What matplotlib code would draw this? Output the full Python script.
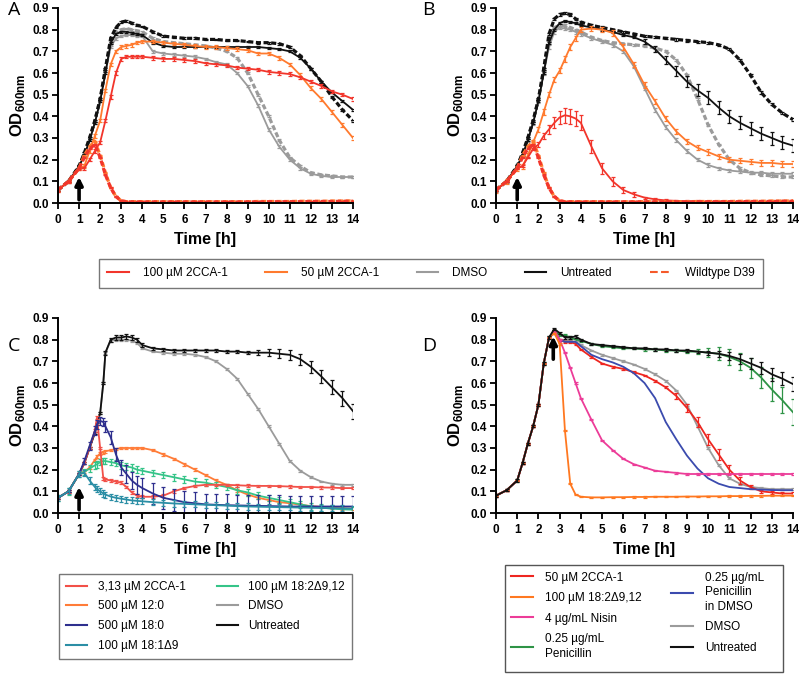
## Growth curves (OD600) of pneumococcal cultures, four panels A-D

import numpy as np
import matplotlib.pyplot as plt
from matplotlib.lines import Line2D
from matplotlib.patches import Rectangle

plt.rcParams['font.family'] = ['Liberation Sans', 'DejaVu Sans']
plt.rcParams['mathtext.fontset'] = 'custom'
plt.rcParams['mathtext.rm'] = 'Liberation Sans'
plt.rcParams['mathtext.bf'] = 'Liberation Sans:bold'

## Time points [h]

T_AB = [0, 0.5, 1, 1.25, 1.5, 1.75, 2, 2.25, 2.5, 2.75, 3, 3.25, 3.5, 3.75, 4,
        4.5, 5, 5.5, 6, 6.5, 7, 7.5, 8, 8.5, 9, 9.5, 10, 10.5, 11, 11.5, 12,
        12.5, 13, 13.5, 14]
T_C = [0, 0.5, 1, 1.25, 1.5, 1.75, 1.85, 2, 2.15, 2.25, 2.5, 2.75, 3, 3.25,
       3.5, 3.75, 4, 4.5, 5, 5.5, 6, 6.5, 7, 7.5, 8, 8.5, 9, 9.5, 10, 10.5,
       11, 11.5, 12, 12.5, 13, 13.5, 14]
T_D = T_AB

## Panel A (solid = mutant, dashed = wildtype D39)

A_untreated_wt = [0.06, 0.10, 0.17, 0.23, 0.30, 0.38, 0.48, 0.62, 0.76, 0.81,
                  0.835, 0.84, 0.83, 0.82, 0.815, 0.79, 0.77, 0.765, 0.76, 0.76,
                  0.755, 0.755, 0.75, 0.75, 0.745, 0.74, 0.74, 0.735, 0.72, 0.68,
                  0.62, 0.56, 0.49, 0.43, 0.38]
A_untreated = [0.06, 0.10, 0.17, 0.22, 0.29, 0.37, 0.47, 0.60, 0.74, 0.78,
               0.79, 0.79, 0.785, 0.78, 0.775, 0.74, 0.725, 0.72, 0.72, 0.72,
               0.72, 0.72, 0.72, 0.72, 0.72, 0.72, 0.715, 0.71, 0.70, 0.67,
               0.62, 0.56, 0.51, 0.47, 0.43]
A_dmso_wt = [0.06, 0.10, 0.17, 0.23, 0.30, 0.38, 0.48, 0.62, 0.74, 0.79,
             0.80, 0.805, 0.80, 0.795, 0.79, 0.76, 0.745, 0.74, 0.735, 0.73,
             0.725, 0.715, 0.70, 0.67, 0.60, 0.50, 0.40, 0.29, 0.21, 0.17,
             0.14, 0.13, 0.125, 0.12, 0.12]
A_dmso = [0.06, 0.10, 0.17, 0.22, 0.29, 0.37, 0.47, 0.60, 0.72, 0.76,
          0.77, 0.775, 0.775, 0.77, 0.77, 0.70, 0.69, 0.685, 0.68, 0.675,
          0.665, 0.65, 0.64, 0.60, 0.54, 0.45, 0.34, 0.26, 0.20, 0.16,
          0.135, 0.125, 0.12, 0.12, 0.12]
A_50 = [0.06, 0.10, 0.16, 0.17, 0.24, 0.31, 0.38, 0.52, 0.64, 0.70,
        0.72, 0.725, 0.73, 0.74, 0.745, 0.745, 0.74, 0.735, 0.73, 0.725,
        0.72, 0.72, 0.715, 0.71, 0.705, 0.69, 0.69, 0.67, 0.64, 0.59,
        0.53, 0.48, 0.42, 0.36, 0.30]
A_100 = [0.06, 0.10, 0.16, 0.16, 0.20, 0.24, 0.28, 0.38, 0.49, 0.60,
         0.665, 0.675, 0.675, 0.675, 0.675, 0.67, 0.665, 0.665, 0.66, 0.655,
         0.645, 0.64, 0.635, 0.625, 0.62, 0.615, 0.605, 0.60, 0.595, 0.58,
         0.56, 0.54, 0.515, 0.50, 0.48]

## Wildtype D39 with 2CCA-1 (same in A and B)
WT_100 = [0.06, 0.10, 0.16, 0.21, 0.25, 0.27, 0.21, 0.13, 0.07, 0.03,
          0.01, 0.006, 0.005, 0.005, 0.005, 0.005, 0.005, 0.005, 0.005, 0.005,
          0.005, 0.005, 0.005, 0.005, 0.005, 0.005, 0.006, 0.006, 0.006, 0.006,
          0.007, 0.007, 0.007, 0.008, 0.008]
WT_50 = [0.06, 0.10, 0.16, 0.22, 0.26, 0.285, 0.22, 0.14, 0.07, 0.03,
         0.01, 0.006, 0.006, 0.006, 0.006, 0.006, 0.006, 0.006, 0.006, 0.006,
         0.006, 0.006, 0.006, 0.006, 0.006, 0.007, 0.007, 0.007, 0.007, 0.008,
         0.008, 0.008, 0.009, 0.009, 0.01]

## Panel B

B_untreated_wt = [0.06, 0.10, 0.17, 0.23, 0.30, 0.38, 0.48, 0.62, 0.78, 0.85,
                  0.87, 0.875, 0.87, 0.85, 0.835, 0.82, 0.81, 0.80, 0.79, 0.78,
                  0.77, 0.765, 0.76, 0.755, 0.75, 0.745, 0.74, 0.73, 0.71, 0.66,
                  0.59, 0.51, 0.455, 0.415, 0.385]
B_untreated = [0.06, 0.10, 0.17, 0.22, 0.29, 0.37, 0.47, 0.60, 0.74, 0.80,
               0.83, 0.84, 0.835, 0.83, 0.82, 0.81, 0.80, 0.79, 0.775, 0.765,
               0.745, 0.71, 0.66, 0.61, 0.56, 0.52, 0.485, 0.44, 0.40, 0.37,
               0.345, 0.32, 0.30, 0.28, 0.265]
B_dmso_wt = [0.06, 0.10, 0.17, 0.23, 0.30, 0.38, 0.48, 0.62, 0.76, 0.81,
             0.82, 0.82, 0.81, 0.80, 0.79, 0.765, 0.75, 0.74, 0.735, 0.73,
             0.725, 0.715, 0.70, 0.66, 0.59, 0.48, 0.36, 0.27, 0.20, 0.16,
             0.14, 0.13, 0.125, 0.12, 0.12]
B_dmso = [0.06, 0.10, 0.17, 0.22, 0.29, 0.37, 0.47, 0.60, 0.72, 0.79,
          0.81, 0.805, 0.80, 0.79, 0.78, 0.76, 0.745, 0.73, 0.70, 0.63,
          0.53, 0.43, 0.35, 0.29, 0.24, 0.20, 0.175, 0.16, 0.15, 0.145,
          0.14, 0.14, 0.135, 0.135, 0.135]
B_50 = [0.06, 0.10, 0.16, 0.17, 0.22, 0.28, 0.34, 0.42, 0.50, 0.57,
        0.61, 0.665, 0.72, 0.76, 0.80, 0.805, 0.80, 0.785, 0.72, 0.64,
        0.545, 0.47, 0.39, 0.33, 0.285, 0.255, 0.235, 0.215, 0.20, 0.195,
        0.19, 0.185, 0.185, 0.18, 0.18]
B_100 = [0.06, 0.10, 0.16, 0.17, 0.21, 0.25, 0.27, 0.31, 0.34, 0.37,
         0.395, 0.405, 0.40, 0.39, 0.37, 0.26, 0.16, 0.10, 0.06, 0.04,
         0.025, 0.017, 0.012, 0.01, 0.008, 0.007, 0.006, 0.006, 0.006, 0.006,
         0.006, 0.006, 0.006, 0.007, 0.007]

## Panel C

C_untreated = [0.07, 0.10, 0.18, 0.23, 0.30, 0.37, 0.41, 0.46, 0.60, 0.74,
               0.80, 0.81, 0.81, 0.815, 0.81, 0.80, 0.775,
               0.76, 0.755, 0.75, 0.75, 0.75, 0.75, 0.75, 0.745, 0.745, 0.74,
               0.74, 0.74, 0.735, 0.73, 0.71, 0.675, 0.63, 0.58, 0.53, 0.47]
C_dmso = [0.07, 0.10, 0.18, 0.23, 0.30, 0.37, 0.41, 0.46, 0.60, 0.74,
          0.795, 0.80, 0.80, 0.80, 0.795, 0.785, 0.76,
          0.745, 0.74, 0.735, 0.735, 0.73, 0.72, 0.70, 0.665, 0.62, 0.55,
          0.48, 0.40, 0.32, 0.24, 0.195, 0.165, 0.145, 0.135, 0.13, 0.13]
C_2cca = [0.07, 0.10, 0.18, 0.23, 0.30, 0.38, 0.44, 0.30, 0.16, 0.155,
          0.15, 0.145, 0.14, 0.12, 0.095, 0.08, 0.075,
          0.075, 0.08, 0.10, 0.115, 0.125, 0.13, 0.13, 0.13, 0.128, 0.126,
          0.125, 0.125, 0.124, 0.122, 0.12, 0.12, 0.118, 0.117, 0.115, 0.115]
C_12_0 = [0.07, 0.10, 0.18, 0.19, 0.21, 0.245, 0.26, 0.275, 0.28, 0.285,
          0.29, 0.295, 0.30, 0.30, 0.30, 0.30, 0.30,
          0.29, 0.27, 0.25, 0.225, 0.20, 0.175, 0.15, 0.13, 0.105, 0.085,
          0.07, 0.06, 0.05, 0.045, 0.038, 0.032, 0.028, 0.025, 0.022, 0.02]
C_18_0 = [0.07, 0.10, 0.18, 0.24, 0.31, 0.38, 0.41, 0.425, 0.42, 0.40,
          0.35, 0.27, 0.21, 0.18, 0.15, 0.13, 0.115,
          0.09, 0.07, 0.06, 0.05, 0.045, 0.04, 0.038, 0.036, 0.035, 0.034,
          0.033, 0.032, 0.031, 0.03, 0.03, 0.03, 0.03, 0.03, 0.03, 0.03]
C_18_1 = [0.07, 0.10, 0.18, 0.185, 0.15, 0.12, 0.11, 0.10, 0.09, 0.085,
          0.076, 0.07, 0.066, 0.062, 0.058, 0.056, 0.054,
          0.05, 0.047, 0.044, 0.042, 0.04, 0.038, 0.036, 0.034, 0.032, 0.03,
          0.029, 0.028, 0.027, 0.026, 0.025, 0.024, 0.023, 0.022, 0.021, 0.02]
C_18_2 = [0.07, 0.10, 0.18, 0.19, 0.205, 0.22, 0.225, 0.235, 0.24, 0.24,
          0.235, 0.23, 0.22, 0.215, 0.21, 0.20, 0.195,
          0.185, 0.175, 0.165, 0.155, 0.145, 0.14, 0.13, 0.12, 0.105, 0.095,
          0.08, 0.07, 0.06, 0.05, 0.04, 0.03, 0.025, 0.02, 0.017, 0.015]

## Panel D (all cultures share the first 2.5 h)

D_rise = [0.08, 0.105, 0.15, 0.23, 0.32, 0.40, 0.50, 0.69, 0.81]
D_untreated = D_rise + [0.85, 0.83, 0.81, 0.81, 0.815, 0.80,
                        0.78, 0.775, 0.77, 0.765, 0.76, 0.76, 0.755, 0.755, 0.75, 0.75,
                        0.745, 0.74, 0.735, 0.725, 0.71, 0.69, 0.67, 0.64, 0.62, 0.595]
D_peni = D_rise + [0.84, 0.82, 0.82, 0.81, 0.80, 0.795,
                   0.78, 0.77, 0.765, 0.76, 0.76, 0.755, 0.755, 0.75, 0.75, 0.745,
                   0.745, 0.74, 0.735, 0.72, 0.70, 0.67, 0.625, 0.57, 0.52, 0.465]
D_dmso = D_rise + [0.84, 0.80, 0.795, 0.795, 0.79, 0.775,
                   0.75, 0.73, 0.715, 0.70, 0.685, 0.665, 0.64, 0.61, 0.565, 0.50,
                   0.40, 0.30, 0.22, 0.16, 0.135, 0.12, 0.115, 0.11, 0.11, 0.11]
D_2cca = D_rise + [0.84, 0.80, 0.79, 0.79, 0.78, 0.755,
                   0.72, 0.69, 0.675, 0.665, 0.65, 0.635, 0.61, 0.58, 0.54, 0.485,
                   0.42, 0.34, 0.27, 0.20, 0.15, 0.12, 0.10, 0.095, 0.09, 0.09]
D_peni_dmso = D_rise + [0.83, 0.80, 0.79, 0.79, 0.79, 0.77,
                        0.73, 0.71, 0.695, 0.675, 0.645, 0.60, 0.53, 0.42, 0.34, 0.265,
                        0.205, 0.16, 0.135, 0.12, 0.115, 0.11, 0.108, 0.106, 0.105, 0.105]
D_nisin = D_rise + [0.84, 0.80, 0.74, 0.67, 0.60, 0.53,
                    0.43, 0.335, 0.29, 0.25, 0.225, 0.21, 0.195, 0.19, 0.185, 0.18,
                    0.18, 0.18, 0.18, 0.18, 0.18, 0.18, 0.18, 0.18, 0.18, 0.18]
D_18_2 = D_rise + [0.83, 0.78, 0.38, 0.135, 0.085, 0.075,
                   0.072, 0.072, 0.073, 0.073, 0.074, 0.074, 0.075, 0.075, 0.075, 0.076,
                   0.076, 0.077, 0.077, 0.078, 0.078, 0.079, 0.079, 0.08, 0.08, 0.08]

## Standard deviations where the error bars are large

sd_B_untreated = [0.004]*20 + [0.01, 0.015, 0.02, 0.022, 0.025, 0.028, 0.03, 0.03,
                               0.03, 0.03, 0.03, 0.03, 0.03, 0.03, 0.03]
sd_B_100 = [0.004]*6 + [0.01, 0.015, 0.02, 0.025, 0.03, 0.035, 0.035, 0.035, 0.035,
                        0.03, 0.025, 0.02, 0.015, 0.01] + [0.005]*15
sd_C_untreated = [0.005]*9 + [0.01]*8 + [0.008]*10 + [0.012, 0.015, 0.02, 0.022, 0.025,
                                                      0.028, 0.03, 0.032, 0.035, 0.035]
sd_C_18_0 = [0.005]*3 + [0.015, 0.02, 0.02, 0.02, 0.02, 0.02, 0.025, 0.03, 0.03, 0.035,
                         0.04, 0.04, 0.04, 0.045] + [0.05]*20
sd_D_untreated = [0.005]*26 + [0.01, 0.015, 0.02, 0.022, 0.025, 0.028, 0.03, 0.03, 0.032]
sd_D_peni = [0.005]*25 + [0.01, 0.02, 0.03, 0.035, 0.04, 0.045, 0.05, 0.055, 0.06, 0.06]
sd_D_2cca = [0.004]*23 + [0.015, 0.02, 0.025, 0.025, 0.025, 0.02, 0.015, 0.01, 0.008,
                          0.006, 0.005, 0.005]

## Colours

red = '#f2352b'
orange = '#ff7a2e'
wt_col = '#f5592a'
gray = '#9b9b9b'
black = '#111111'
c_red, c_orange, c_navy, c_teal, c_green = '#f25048', '#ff7c38', '#2e2f8e', '#2b8ea5', '#35c488'
d_red, d_orange, d_pink, d_green, d_blue = '#ee2620', '#ff7820', '#ec3c98', '#2e9346', '#3b4bae'

DASH = (1.6, 0.8)


def curve(ax, t, y, color, sd=None, dashed=False, lw=1.3, z=2):
    if dashed:
        ax.plot(t, y, color=color, lw=2.3, dashes=DASH, zorder=z)
    else:
        ax.plot(t, y, color=color, lw=lw, zorder=z)
    if sd is not None:
        ax.errorbar(t, y, yerr=sd, fmt='none', ecolor=color, elinewidth=0.9,
                    capsize=1.6, capthick=0.9, zorder=z)


def style_axis(ax):
    ax.set_xlim(0, 14)
    ax.set_ylim(0, 0.9)
    ax.set_xticks(range(15))
    ax.set_yticks(np.arange(0, 0.91, 0.1))
    ax.set_yticklabels(['%.1f' % v for v in np.arange(0, 0.91, 0.1)])
    for s in ['top', 'right']:
        ax.spines[s].set_visible(False)
    for s in ['left', 'bottom']:
        ax.spines[s].set_linewidth(1.4)
    ax.tick_params(length=4, width=1.3, labelsize=8.5)
    ax.tick_params(axis='x', pad=4)
    ax.tick_params(axis='y', pad=2.5)
    for lab in ax.get_xticklabels() + ax.get_yticklabels():
        lab.set_fontweight('bold')
    ax.set_xlabel('Time [h]', fontsize=11.5, fontweight='bold', labelpad=4)
    ax.set_ylabel(r'$\mathbf{OD}_{\mathbf{600nm}}$', fontsize=12, labelpad=4)


fig = plt.figure(figsize=(8, 6.75), dpi=100)
axA = fig.add_axes([58/800, 1 - 203/675, 295/800, 195/675])
axB = fig.add_axes([496/800, 1 - 203/675, 297/800, 195/675])
axC = fig.add_axes([58/800, 1 - 513/675, 295/800, 195/675])
axD = fig.add_axes([496/800, 1 - 513/675, 297/800, 195/675])

## Panel A
curve(axA, T_AB, A_dmso_wt, gray, sd=0.004, dashed=True)
curve(axA, T_AB, A_dmso, gray, sd=0.006)
curve(axA, T_AB, A_untreated, black, sd=0.004)
curve(axA, T_AB, A_untreated_wt, black, sd=0.004, dashed=True)
curve(axA, T_AB, A_50, orange, sd=0.008)
curve(axA, T_AB, A_100, red, sd=0.008)
curve(axA, T_AB, WT_50, orange, sd=0.003, dashed=True)
curve(axA, T_AB, WT_100, red, sd=0.003, dashed=True)

## Panel B
curve(axB, T_AB, B_dmso_wt, gray, sd=0.004, dashed=True)
curve(axB, T_AB, B_dmso, gray, sd=0.008)
curve(axB, T_AB, B_untreated, black, sd=sd_B_untreated)
curve(axB, T_AB, B_untreated_wt, black, sd=0.005, dashed=True)
curve(axB, T_AB, B_50, orange, sd=0.012)
curve(axB, T_AB, B_100, red, sd=sd_B_100)
curve(axB, T_AB, WT_50, orange, sd=0.003, dashed=True)
curve(axB, T_AB, WT_100, red, sd=0.003, dashed=True)

## Panel C
curve(axC, T_C, C_dmso, gray, sd=0.004)
curve(axC, T_C, C_untreated, black, sd=sd_C_untreated)
curve(axC, T_C, C_12_0, c_orange, sd=0.006)
curve(axC, T_C, C_18_2, c_green, sd=0.015)
curve(axC, T_C, C_2cca, c_red, sd=0.006)
curve(axC, T_C, C_18_0, c_navy, sd=sd_C_18_0)
curve(axC, T_C, C_18_1, c_teal, sd=0.014)

## Panel D
curve(axD, T_D, D_peni, d_green, sd=sd_D_peni)
curve(axD, T_D, D_dmso, gray, sd=0.004)
curve(axD, T_D, D_2cca, d_red, sd=sd_D_2cca)
curve(axD, T_D, D_peni_dmso, d_blue)
curve(axD, T_D, D_nisin, d_pink, sd=0.003)
curve(axD, T_D, D_18_2, d_orange, sd=0.003)
curve(axD, T_D, D_untreated, black, sd=sd_D_untreated)

for ax in (axA, axB, axC, axD):
    style_axis(ax)

## Arrows mark the time of addition
arrow = dict(arrowstyle='-|>', lw=2.6, color='black', mutation_scale=11, shrinkA=0, shrinkB=0)
for ax in (axA, axB, axC):
    ax.annotate('', xy=(1, 0.12), xytext=(1, 0.015), arrowprops=arrow, zorder=5)
axD.annotate('', xy=(2.7, 0.815), xytext=(2.7, 0.71), arrowprops=arrow, zorder=5)

## Panel letters
for x, y, s in [(0.010, 0.985, 'A'), (0.528, 0.985, 'B'), (0.010, 0.488, 'C'), (0.528, 0.488, 'D')]:
    fig.text(x, y, s, fontsize=14, family='Open Sans', va='center', ha='left')

## Legends
def make_legend(handles, labels, center, ncol, colsp, hlen=1.8, lsp=0.6, bpad=0.7, tpad=1.2):
    leg = fig.legend(handles, labels, loc='center', bbox_to_anchor=center, ncol=ncol,
                     fontsize=8.5, frameon=True, fancybox=False, edgecolor='#555555',
                     handlelength=hlen, handletextpad=tpad, columnspacing=colsp,
                     labelspacing=lsp, borderpad=bpad)
    leg.get_frame().set_linewidth(1.0)
    return leg


def h(color, ls='-'):
    return Line2D([], [], color=color, lw=1.5, ls=ls)

make_legend([h(red), h(orange), h(gray), h(black), h(wt_col, '--')],
            ['100 µM 2CCA-1', '50 µM 2CCA-1', 'DMSO', 'Untreated', 'Wildtype D39'],
            (0.539, 0.595), 5, 3.2)

make_legend([h(c_red), h(c_orange), h(c_navy), h(c_teal), h(c_green), h(gray), h(black)],
            ['3,13 µM 2CCA-1', '500 µM 12:0', '500 µM 18:0', '100 µM 18:1Δ9',
             '100 µM 18:2Δ9,12', 'DMSO', 'Untreated'],
            (0.257, 0.087), 2, 2.6, lsp=0.65, bpad=0.6, tpad=0.9)

## Panel D legend: two columns drawn as separate legends inside one frame
fig.patches.append(Rectangle((505/800, 1 - 672/675), 278/800, 107/675, transform=fig.transFigure,
                             fill=False, edgecolor='#555555', lw=1.0))
d_cols = [([h(d_red), h(d_orange), h(d_pink), h(d_green)],
           ['50 µM 2CCA-1', '100 µM 18:2Δ9,12', '4 µg/mL Nisin', '0.25 µg/mL\nPenicillin'],
           507/800),
          ([h(d_blue), h(gray), h(black)],
           ['0.25 µg/mL\nPenicillin\nin DMSO', 'DMSO', 'Untreated'],
           667/800)]
for hs, labs, x0 in d_cols:
    leg = fig.legend(hs, labs, loc='upper left', bbox_to_anchor=(x0, 1 - 568/675),
                     fontsize=8.5, frameon=False, handlelength=1.9, handletextpad=1.0,
                     labelspacing=0.72, borderpad=0.3, borderaxespad=0)
    for txt in leg.get_texts():
        txt.set_linespacing(1.3)

fig.savefig('out.png', dpi=100)
